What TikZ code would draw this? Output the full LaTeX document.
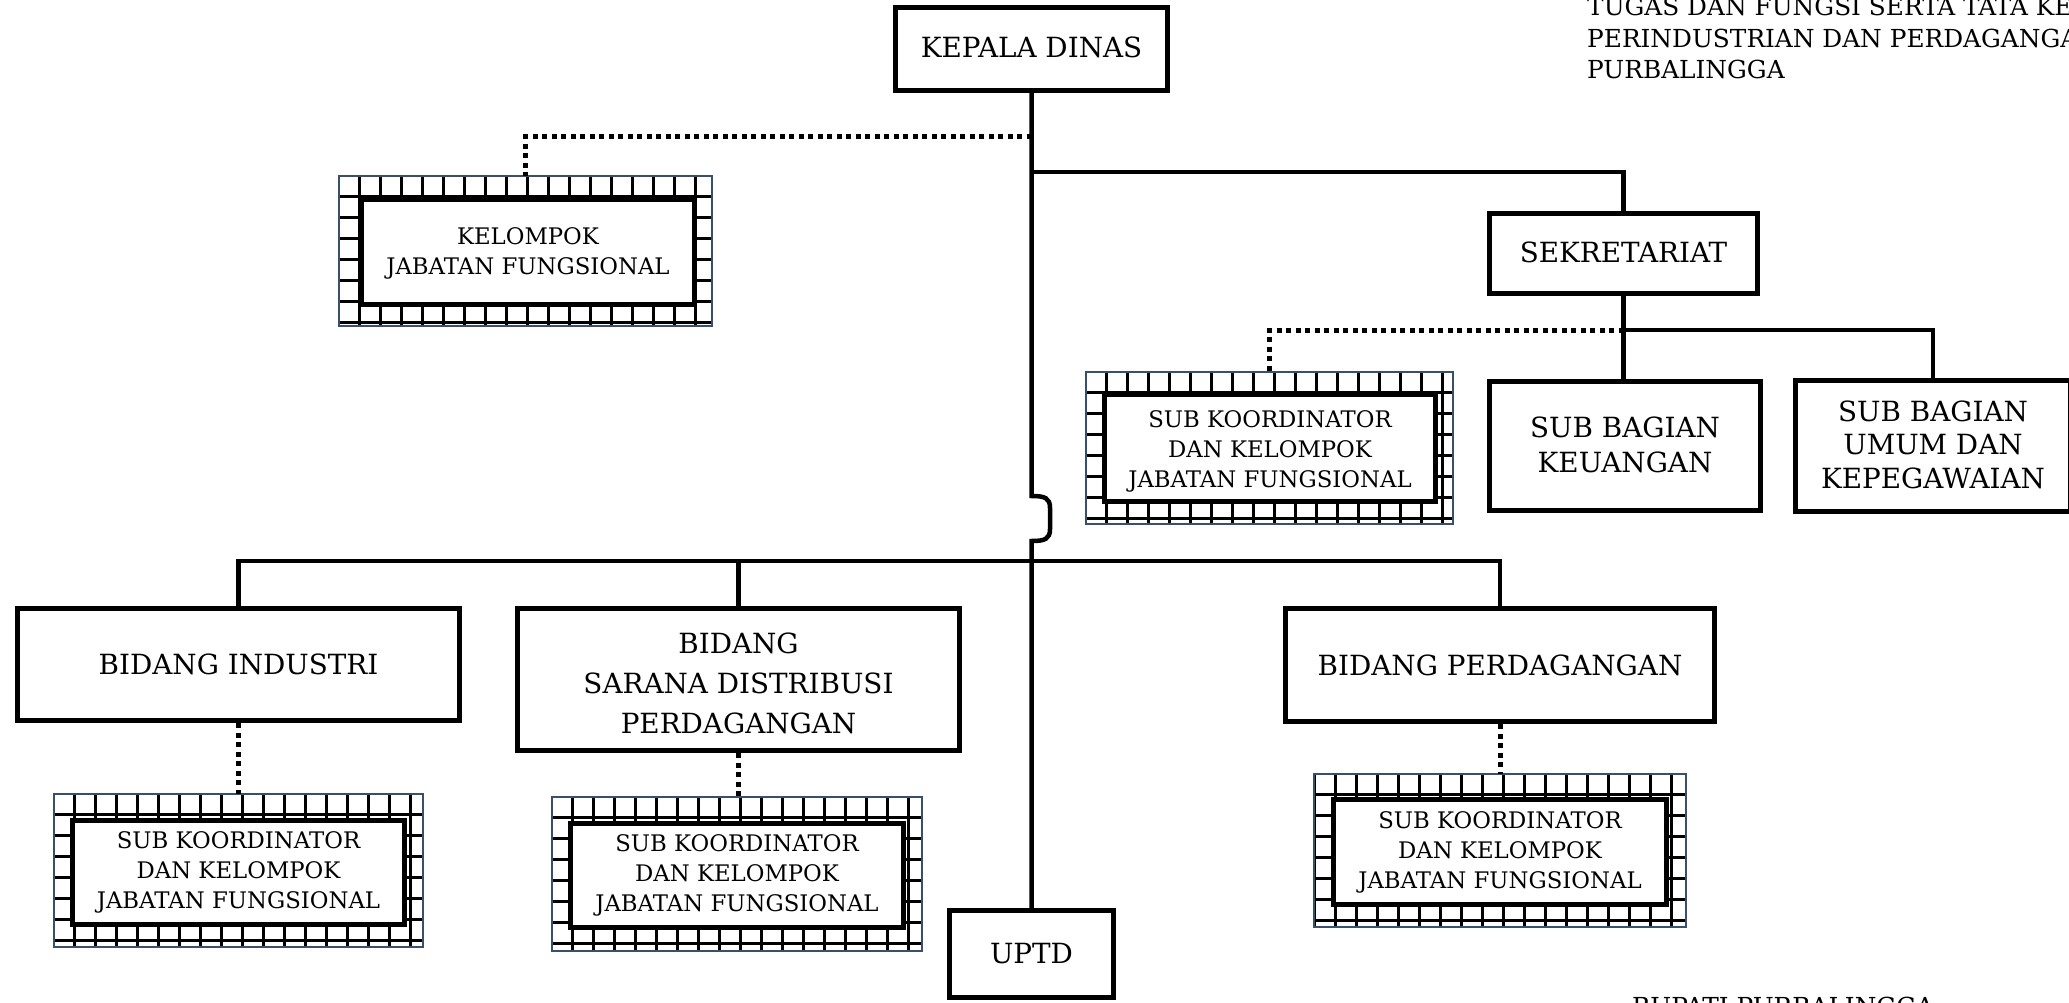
\documentclass[tikz,border=0pt]{standalone}
\usepackage{fontspec}
\setmainfont{DejaVu Serif}
\definecolor{gridblue}{RGB}{56,80,110}
\newcommand\ringgrid[1]{%
  \begin{scope}
    \clip (#1.north west) rectangle (#1.south east);
    \foreach \i in {0,...,18}
      \draw[gridl] ([xshift=\i*21pt]#1.north west) -- ([xshift=\i*21pt]#1.south west);
    \foreach \i in {0,...,8}
      \draw[gridl] ([yshift=-\i*21pt]#1.north west) -- ([yshift=-\i*21pt]#1.north east);
  \end{scope}
  \draw[draw=gridblue, line width=2pt] (#1.north west) rectangle (#1.south east);}
\begin{document}
\begin{tikzpicture}[x=1pt,y=-1pt,
  box/.style={draw, line width=5.5pt, fill=white, inner sep=0pt, align=center,
    font={\fontsize{27.8}{36}\selectfont}},
  ibox/.style={draw, line width=5.5pt, fill=white, inner sep=0pt, align=center,
    font={\fontsize{22.8}{30}\selectfont}},
  gring/.style={draw=none, fill=white, inner sep=0pt},
  gridl/.style={black, line width=3.2pt},
  conn/.style={line width=4.5pt},
  dotline/.style={line width=5pt, dash pattern=on 5pt off 4.5pt},
  ttext/.style={anchor=base west, inner sep=0pt, font={\fontsize{24.8}{30}\selectfont}}
]
\fill[white] (0,0) rectangle (2069,1003);
\useasboundingbox (0,0) rectangle (2069,1003);

% top-right heading
\node[ttext] (t1) at (1587,16) {TUGAS DAN FUNGSI SERTA TATA KERJA};
\node[ttext] (t2) at (1587,47.5) {PERINDUSTRIAN DAN PERDAGANGAN};
\node[ttext] (t3) at (1587,79) {PURBALINGGA};
\node[ttext] (t4) at (1632,1015) {BUPATI PURBALINGGA};

% main boxes
\node[box, minimum width=272, minimum height=83] (kepala) at (1031.5,49) {\raisebox{3pt}{KEPALA DINAS}};
\node[box, minimum width=268, minimum height=80] (sekr) at (1623.5,253.5) {\raisebox{2pt}{SEKRETARIAT}};
\node[box, minimum width=271, minimum height=129, font={\fontsize{27.8}{35}\selectfont}] (keu) at (1625,446) {SUB BAGIAN\\KEUANGAN\rule[-3pt]{0pt}{0pt}};
\node[box, minimum width=275, minimum height=131, font={\fontsize{27.8}{33.5}\selectfont}] (umum) at (1933,446) {SUB BAGIAN\\UMUM DAN\\KEPEGAWAIAN\rule[-3pt]{0pt}{0pt}};
\node[box, minimum width=442, minimum height=112] (bind) at (238.5,664.5) {BIDANG INDUSTRI};
\node[box, minimum width=442, minimum height=142, font={\fontsize{27.8}{40}\selectfont}] (bsar) at (738.5,679.5) {\rule{0pt}{28pt}BIDANG\\SARANA DISTRIBUSI\\PERDAGANGAN};
\node[box, minimum width=429, minimum height=113] (bper) at (1500,665) {BIDANG PERDAGANGAN};
\node[box, minimum width=164, minimum height=87] (uptd) at (1031.5,954) {UPTD};

% grid-framed boxes
\node[gring, minimum width=373, minimum height=150] (kjfo) at (525.5,251) {};
\ringgrid{kjfo}
\node[ibox, minimum width=333, minimum height=105] (kjf) at (528,252) {\rule{0pt}{20pt}KELOMPOK\\JABATAN FUNGSIONAL};

\node[gring, minimum width=367, minimum height=152] (sk0o) at (1269.5,448) {};
\ringgrid{sk0o}
\node[ibox, minimum width=331, minimum height=107] (sk0) at (1270,448) {\rule{0pt}{24pt}SUB KOORDINATOR\\DAN KELOMPOK\\JABATAN FUNGSIONAL};

\node[gring, minimum width=369, minimum height=153] (sk1o) at (238.5,870.5) {};
\ringgrid{sk1o}
\node[ibox, minimum width=332, minimum height=104] (sk1) at (238.5,872.5) {SUB KOORDINATOR\\DAN KELOMPOK\\JABATAN FUNGSIONAL};

\node[gring, minimum width=370, minimum height=154] (sk2o) at (737,874) {};
\ringgrid{sk2o}
\node[ibox, minimum width=333, minimum height=104] (sk2) at (737,875.5) {SUB KOORDINATOR\\DAN KELOMPOK\\JABATAN FUNGSIONAL};

\node[gring, minimum width=371, minimum height=153] (sk3o) at (1500,850.5) {};
\ringgrid{sk3o}
\node[ibox, minimum width=333, minimum height=105] (sk3) at (1500,852) {SUB KOORDINATOR\\DAN KELOMPOK\\JABATAN FUNGSIONAL};

% helper coordinates
\coordinate (dk) at (1031.5,137);
\coordinate (hs) at (1031.5,172);
\coordinate (j1) at (1031.5,496);
\coordinate (j2) at (1031.5,541);
\coordinate (hm) at (1031.5,561);
\coordinate (hsek) at (1623.5,330);

% connectors
\draw[conn] (kepala.south) -- (j1) .. controls (1045,496) and (1050,498) .. (1050,508)
  -- (1050,529) .. controls (1050,539) and (1045,541) .. (j2) -- (uptd.north);
\draw[conn] (hs) -| (sekr.north);
\draw[dotline] (dk) -| (kjfo.north);
\draw[conn] (sekr.south) -- (sekr.south |- keu.north);
\draw[conn] (hsek) -| (umum.north);
\draw[dotline] (hsek) -| (sk0o.north);
\draw[conn] (bind.north) |- (hm) -| (bper.north);
\draw[conn] (bsar.north) -- (bsar.north |- hm);
\draw[dotline] (bind.south) -- (sk1o.north);
\draw[dotline] (bsar.south) -- (bsar.south |- sk2o.north);
\draw[dotline] (bper.south) -- (sk3o.north);
\end{tikzpicture}
\end{document}
